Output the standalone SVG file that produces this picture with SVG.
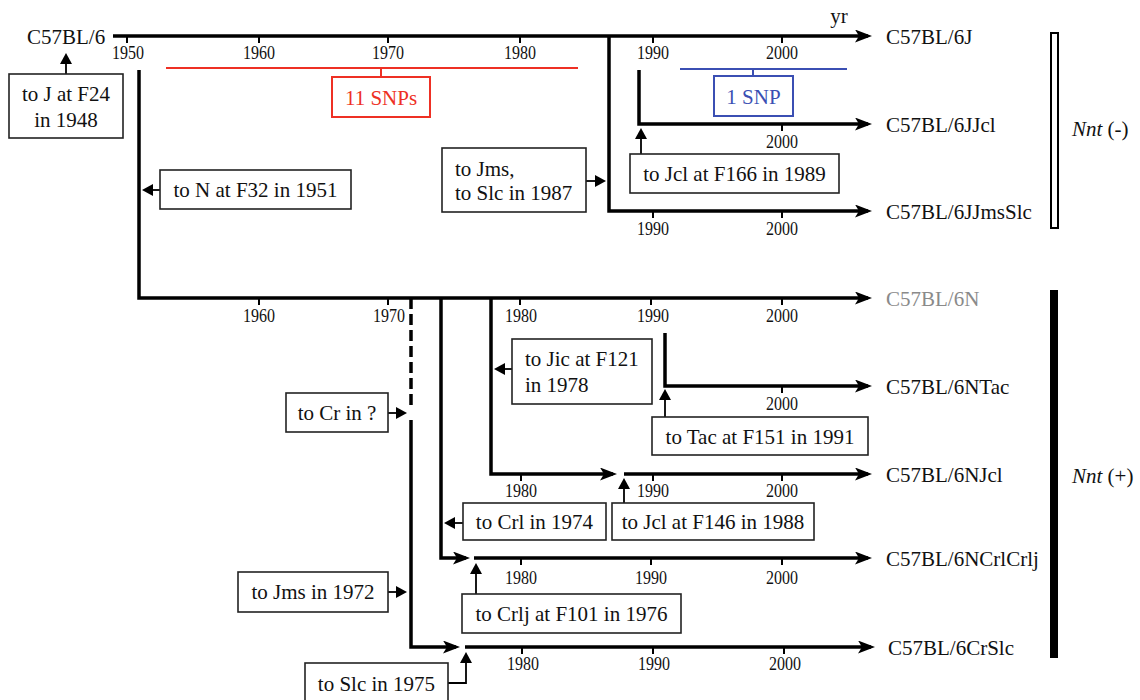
<svg xmlns="http://www.w3.org/2000/svg" width="1140" height="700" viewBox="0 0 1140 700">
<defs>
<style>
text{font-family:"Liberation Serif","Times New Roman",serif;fill:#111}
.t{font-size:21px}
.c{text-anchor:middle}
.y{font-size:18px;text-anchor:middle}
.box{fill:#fff;stroke:#222;stroke-width:1.6}
.main{fill:none;stroke:#000;stroke-width:3.5;marker-end:url(#ah)}
.line{fill:none;stroke:#000;stroke-width:3.5}
.tick{stroke:#000;stroke-width:2}
.call{fill:none;stroke:#000;stroke-width:1.8;marker-end:url(#sa)}
.red{stroke:#ee3024;fill:none;stroke-width:2}
.blue{stroke:#3b4fb3;fill:none;stroke-width:2}
</style>
<marker id="ah" markerUnits="userSpaceOnUse" viewBox="0 0 17 13" markerWidth="17" markerHeight="13" refX="13" refY="6.5" orient="auto"><path d="M0,0 L17,6.5 L0,13 L4,6.5 z" fill="#000"/></marker>
<marker id="sa" markerUnits="userSpaceOnUse" viewBox="0 0 11 12" markerWidth="11" markerHeight="12" refX="9" refY="6" orient="auto"><path d="M0,0 L11,6 L0,12 z" fill="#000"/></marker>
</defs>
<rect width="1140" height="700" fill="#fff"/>

<g id="connectors">
<path class="main" d="M113,36 H868"/>
<path class="main" d="M139,70 V298 H868"/>
<path class="main" d="M609,36 V211 H868"/>
<path class="main" d="M639,70 V124 H868"/>
<path class="main" d="M665,333 V386 H868"/>
<path class="line" d="M411,298 V410" stroke-dasharray="11 5"/>
<path class="main" d="M411,420 V647 H456"/>
<path class="main" d="M465,647 H871"/>
<path class="main" d="M441,298 V558 H466"/>
<path class="main" d="M474,558 H868"/>
<path class="main" d="M491,298 V474 H613"/>
<path class="main" d="M624,474 H868"/>
<path class="call" d="M66,74 V55"/>
<path class="call" d="M160,190 H144"/>
<path class="call" d="M586,181 H604"/>
<path class="call" d="M641,154 V130"/>
<path class="call" d="M665,417 V391"/>
<path class="call" d="M512,369 H496"/>
<path class="call" d="M388,413 H405"/>
<path class="call" d="M463,523 H446"/>
<path class="call" d="M624,503 V480"/>
<path class="call" d="M388,592 H405"/>
<path class="call" d="M476,594 V565"/>
<path class="call" d="M448,683 H466 V654"/>
</g>

<g id="ticks" class="tick">
<path d="M127,36v7M259,36v7M388,36v7M520,36v7M653,36v7M782,36v7"/>
<path d="M782,124v7M653,211v7M782,211v7"/>
<path d="M259,298v7M388,298v7M520,298v7M651,298v7M782,298v7"/>
<path d="M782,386v7"/>
<path d="M521,474v7M653,474v7M782,474v7"/>
<path d="M521,558v7M651,558v7M782,558v7"/>
<path d="M522,647v7M653,647v7M784,647v7"/>
</g>

<g id="years">
<text class="y" x="128" y="59" textLength="32" lengthAdjust="spacingAndGlyphs">1950</text>
<text class="y" x="259" y="59" textLength="32" lengthAdjust="spacingAndGlyphs">1960</text>
<text class="y" x="388" y="59" textLength="32" lengthAdjust="spacingAndGlyphs">1970</text>
<text class="y" x="520" y="59" textLength="32" lengthAdjust="spacingAndGlyphs">1980</text>
<text class="y" x="653" y="59" textLength="32" lengthAdjust="spacingAndGlyphs">1990</text>
<text class="y" x="782" y="59" textLength="32" lengthAdjust="spacingAndGlyphs">2000</text>
<text class="y" x="782" y="148" textLength="32" lengthAdjust="spacingAndGlyphs">2000</text>
<text class="y" x="653" y="235" textLength="32" lengthAdjust="spacingAndGlyphs">1990</text>
<text class="y" x="782" y="235" textLength="32" lengthAdjust="spacingAndGlyphs">2000</text>
<text class="y" x="259" y="322" textLength="32" lengthAdjust="spacingAndGlyphs">1960</text>
<text class="y" x="389" y="322" textLength="32" lengthAdjust="spacingAndGlyphs">1970</text>
<text class="y" x="521" y="322" textLength="32" lengthAdjust="spacingAndGlyphs">1980</text>
<text class="y" x="653" y="322" textLength="32" lengthAdjust="spacingAndGlyphs">1990</text>
<text class="y" x="782" y="322" textLength="32" lengthAdjust="spacingAndGlyphs">2000</text>
<text class="y" x="782" y="410" textLength="32" lengthAdjust="spacingAndGlyphs">2000</text>
<text class="y" x="521" y="497" textLength="32" lengthAdjust="spacingAndGlyphs">1980</text>
<text class="y" x="653" y="497" textLength="32" lengthAdjust="spacingAndGlyphs">1990</text>
<text class="y" x="782" y="497" textLength="32" lengthAdjust="spacingAndGlyphs">2000</text>
<text class="y" x="521" y="584" textLength="32" lengthAdjust="spacingAndGlyphs">1980</text>
<text class="y" x="651" y="584" textLength="32" lengthAdjust="spacingAndGlyphs">1990</text>
<text class="y" x="782" y="584" textLength="32" lengthAdjust="spacingAndGlyphs">2000</text>
<text class="y" x="523" y="670" textLength="32" lengthAdjust="spacingAndGlyphs">1980</text>
<text class="y" x="654" y="670" textLength="32" lengthAdjust="spacingAndGlyphs">1990</text>
<text class="y" x="785" y="670" textLength="32" lengthAdjust="spacingAndGlyphs">2000</text>
<text class="t c" x="839" y="23">yr</text>
</g>

<g id="strains" class="t">
<text id="s-root" x="27" y="44">C57BL/6</text>
<text id="s-6J" x="886" y="44">C57BL/6J</text>
<text id="s-6JJcl" x="886" y="132">C57BL/6JJcl</text>
<text id="s-6JJmsSlc" x="886" y="219">C57BL/6JJmsSlc</text>
<text id="s-6N" x="886" y="306" style="fill:#8a8a8a">C57BL/6N</text>
<text id="s-6NTac" x="886" y="394">C57BL/6NTac</text>
<text id="s-6NJcl" x="886" y="482">C57BL/6NJcl</text>
<text id="s-6NCrlCrlj" x="886" y="566">C57BL/6NCrlCrlj</text>
<text id="s-6CrSlc" x="888" y="655">C57BL/6CrSlc</text>
</g>

<g id="snp11">
<path class="red" d="M166,68 H578 M381,68 V77"/>
<rect x="332" y="77" width="98" height="40" class="red"/>
<text class="t c" x="381" y="105" style="fill:#ee3024">11 SNPs</text>
</g>
<g id="snp1">
<path class="blue" d="M680,69 H847 M753,69 V76"/>
<rect x="714" y="76" width="79" height="40" class="blue"/>
<text class="t c" x="753.5" y="104" style="fill:#3b4fb3">1 SNP</text>
</g>

<g id="box-J"><rect class="box" x="9" y="74" width="114" height="64"/>
<text class="t c" x="66" y="101">to J at F24</text><text class="t c" x="66" y="127">in 1948</text></g>
<g id="box-N"><rect class="box" x="160" y="170" width="191" height="39"/>
<text class="t c" x="255.5" y="197">to N at F32 in 1951</text></g>
<g id="box-JmsSlc"><rect class="box" x="442" y="148" width="144" height="64"/>
<text class="t" x="455" y="176">to Jms,</text><text class="t" x="455" y="200">to Slc in 1987</text></g>
<g id="box-Jcl166"><rect class="box" x="630" y="154" width="209" height="39"/>
<text class="t c" x="734.5" y="181">to Jcl at F166 in 1989</text></g>
<g id="box-Jic"><rect class="box" x="512" y="339" width="140" height="65"/>
<text class="t" x="525" y="366">to Jic at F121</text><text class="t" x="525" y="392">in 1978</text></g>
<g id="box-Tac"><rect class="box" x="652" y="417" width="216" height="38"/>
<text class="t c" x="760" y="444">to Tac at F151 in 1991</text></g>
<g id="box-Cr"><rect class="box" x="286" y="393" width="102" height="39"/>
<text class="t c" x="337" y="420">to Cr in ?</text></g>
<g id="box-Crl"><rect class="box" x="463" y="503" width="143" height="37"/>
<text class="t c" x="534.5" y="529">to Crl in 1974</text></g>
<g id="box-Jcl146"><rect class="box" x="612" y="503" width="202" height="37"/>
<text class="t c" x="713" y="529">to Jcl at F146 in 1988</text></g>
<g id="box-Jms"><rect class="box" x="238" y="572" width="150" height="40"/>
<text class="t c" x="313" y="599">to Jms in 1972</text></g>
<g id="box-Crlj"><rect class="box" x="462" y="594" width="219" height="39"/>
<text class="t c" x="571.5" y="621">to Crlj at F101 in 1976</text></g>
<g id="box-Slc"><rect class="box" x="305" y="663" width="143" height="40"/>
<text class="t c" x="376.5" y="691">to Slc in 1975</text></g>

<g id="nnt-minus">
<rect x="1051" y="33" width="7" height="195" fill="#fff" stroke="#000" stroke-width="2"/>
<text class="t" x="1072" y="136"><tspan font-style="italic">Nnt</tspan> (-)</text>
</g>
<g id="nnt-plus">
<rect x="1050" y="290" width="8" height="368" fill="#000"/>
<text class="t" x="1072" y="483"><tspan font-style="italic">Nnt</tspan> (+)</text>
</g>
</svg>
